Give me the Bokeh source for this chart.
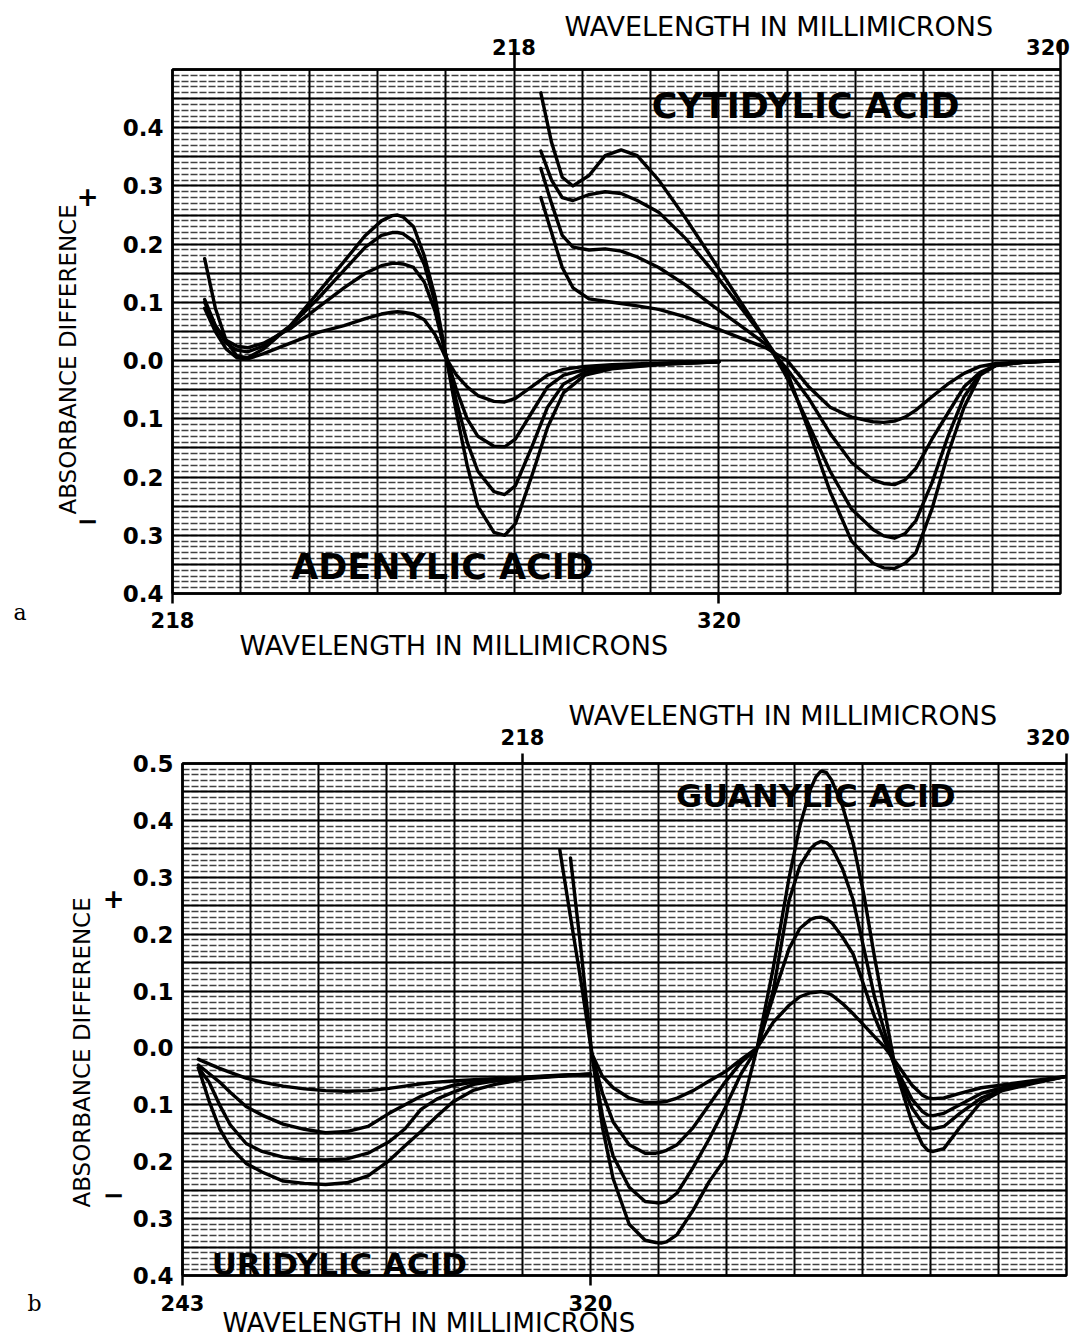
import numpy as np
from bokeh.plotting import figure
from bokeh.models import Range1d, LinearAxis, FixedTicker, Label, Title, CustomJSTickFormatter
from bokeh.embed import file_html
from bokeh.resources import INLINE

nan = float("nan")

# ---------------- Panel a : adenylic acid (bottom wavelength scale) ----------------
adenylic_wl = [224, 226, 228, 230, 232, 235, 240, 245, 250, 254, 257, 259, 260, 261, 263, 265, 267,
               269, 271, 273, 275, 278, 280, 282, 285, 288, 291, 295, 300, 310, 320]
adenylic_1 = [0.175, 0.09, 0.035, 0.008, 0.005, 0.02, 0.06, 0.115, 0.17, 0.215, 0.24, 0.249, 0.25, 0.247, 0.23,
              0.18, 0.11, 0.01, -0.09, -0.18, -0.25, -0.295, -0.30, -0.28, -0.20, -0.115, -0.055, -0.025,
              -0.014, -0.006, -0.002]
adenylic_2 = [0.105, 0.06, 0.03, 0.018, 0.015, 0.025, 0.06, 0.105, 0.155, 0.195, 0.215, 0.22, 0.22, 0.218, 0.205,
              0.165, 0.10, 0.01, -0.07, -0.14, -0.19, -0.225, -0.23, -0.215, -0.15, -0.08, -0.04, -0.02,
              -0.012, -0.006, -0.002]
adenylic_3 = [0.10, 0.06, 0.035, 0.025, 0.022, 0.03, 0.055, 0.09, 0.125, 0.15, 0.163, 0.167, 0.167, 0.166, 0.16,
              0.135, 0.085, 0.01, -0.05, -0.10, -0.13, -0.147, -0.148, -0.135, -0.09, -0.045, -0.025, -0.015,
              -0.01, -0.005, -0.002]
adenylic_4 = [0.09, 0.05, 0.02, 0.005, 0.003, 0.012, 0.03, 0.048, 0.06, 0.072, 0.08, 0.083, 0.084, 0.083, 0.08,
              0.07, 0.045, 0.005, -0.025, -0.045, -0.06, -0.07, -0.071, -0.065, -0.045, -0.025, -0.015, -0.01,
              -0.007, -0.004, -0.001]

# ---------------- Panel a : cytidylic acid (top wavelength scale) ----------------
cytidylic_wl = [223, 225, 227, 229, 232, 235, 238, 241, 245, 250, 255, 260, 265, 269, 273, 277, 281,
                285, 287, 289, 291, 293, 296, 299, 302, 305, 308, 313, 320]
cytidylic_1 = [0.46, 0.375, 0.315, 0.30, 0.318, 0.352, 0.362, 0.352, 0.31, 0.245, 0.175, 0.105, 0.035, -0.02,
               -0.12, -0.225, -0.31, -0.348, -0.356, -0.357, -0.348, -0.33, -0.255, -0.16, -0.08, -0.025,
               -0.008, -0.003, 0.0]
cytidylic_2 = [0.36, 0.31, 0.28, 0.275, 0.285, 0.29, 0.287, 0.275, 0.255, 0.21, 0.155, 0.095, 0.035, -0.03,
               -0.11, -0.19, -0.255, -0.29, -0.301, -0.305, -0.297, -0.275, -0.21, -0.13, -0.062, -0.022,
               -0.008, -0.003, 0.0]
cytidylic_3 = [0.33, 0.27, 0.215, 0.195, 0.19, 0.192, 0.188, 0.178, 0.16, 0.13, 0.095, 0.062, 0.028, -0.015,
               -0.065, -0.125, -0.175, -0.205, -0.211, -0.213, -0.205, -0.185, -0.135, -0.09, -0.045, -0.02,
               -0.008, -0.003, 0.0]
cytidylic_4 = [0.28, 0.22, 0.16, 0.125, 0.106, 0.102, 0.098, 0.094, 0.088, 0.075, 0.058, 0.04, 0.022, 0.0,
               -0.045, -0.08, -0.097, -0.105, -0.106, -0.104, -0.097, -0.085, -0.062, -0.04, -0.022, -0.01,
               -0.005, -0.002, 0.0]

# ---------------- Panel b : uridylic acid (bottom wavelength scale) ----------------
uridylic_wl = [246, 248, 250, 252, 255, 258, 262, 266, 270, 274, 278, 282, 285, 288, 291, 294, 298, 302, 308, 314, 320]
uridylic_1 = [-0.035, -0.093, -0.142, -0.174, -0.203, -0.218, -0.234, -0.238, -0.24, -0.237, -0.225, -0.198,
              -0.172, -0.147, -0.12, -0.095, -0.074, -0.064, -0.054, -0.05, -0.046]
uridylic_2 = [-0.035, -0.06, -0.10, -0.135, -0.168, -0.182, -0.192, -0.196, -0.197, -0.195, -0.185, -0.165,
              -0.142, -0.108, -0.09, -0.078, -0.064, -0.058, -0.053, -0.049, -0.046]
uridylic_3 = [-0.03, -0.045, -0.06, -0.078, -0.103, -0.118, -0.134, -0.143, -0.149, -0.147, -0.138, -0.115,
              -0.10, -0.085, -0.074, -0.066, -0.06, -0.056, -0.052, -0.049, -0.046]
uridylic_4 = [-0.02, -0.028, -0.036, -0.043, -0.053, -0.06, -0.067, -0.072, -0.075, -0.076, -0.075, -0.071,
              -0.067, -0.063, -0.06, -0.058, -0.056, -0.054, -0.051, -0.048, -0.046]

# ---------------- Panel b : guanylic acid (top wavelength scale) ----------------
guanylic_wl = [225, 227, 229, 231, 233, 235, 238, 241, 243, 244, 245, 247, 250, 253, 256, 259, 262, 265, 268,
               270, 272, 273, 274, 275, 276, 278, 280, 282, 284, 286, 288, 291, 293, 294, 295, 297, 300, 304,
               308, 314, 320]
guanylic_1 = [0.348, 0.23, 0.115, -0.01, -0.14, -0.23, -0.31, -0.338, -0.342, -0.343, -0.341, -0.328, -0.285,
              -0.235, -0.195, -0.11, 0.0, 0.14, 0.30, 0.39, 0.455, 0.476, 0.487, 0.484, 0.47, 0.425, 0.36, 0.27,
              0.16, 0.06, -0.04, -0.13, -0.17, -0.18, -0.182, -0.177, -0.14, -0.095, -0.075, -0.062, -0.05]
guanylic_2 = [nan, 0.334, 0.17, -0.01, -0.12, -0.19, -0.245, -0.27, -0.272, -0.272, -0.27, -0.255, -0.21,
              -0.16, -0.105, -0.045, 0.0, 0.10, 0.26, 0.32, 0.35, 0.359, 0.363, 0.361, 0.352, 0.315, 0.26, 0.175,
              0.09, 0.025, -0.04, -0.105, -0.132, -0.14, -0.142, -0.138, -0.115, -0.088, -0.073, -0.06, -0.05]
guanylic_3 = [nan, nan, nan, -0.01, -0.08, -0.13, -0.17, -0.185, -0.185, -0.183, -0.18, -0.17, -0.14,
              -0.10, -0.06, -0.025, 0.0, 0.09, 0.175, 0.21, 0.226, 0.229, 0.23, 0.227, 0.22, 0.195, 0.165, 0.11,
              0.055, 0.01, -0.035, -0.09, -0.112, -0.118, -0.119, -0.115, -0.10, -0.08, -0.07, -0.06, -0.05]
guanylic_4 = [nan, nan, nan, -0.01, -0.05, -0.07, -0.088, -0.096, -0.096, -0.095, -0.094, -0.088, -0.075,
              -0.058, -0.042, -0.02, 0.0, 0.045, 0.075, 0.09, 0.097, 0.098, 0.099, 0.097, 0.093, 0.078, 0.06,
              0.04, 0.02, 0.0, -0.025, -0.065, -0.083, -0.088, -0.089, -0.088, -0.08, -0.07, -0.065, -0.057, -0.05]

# axis tick values
wl_ticks_a_bottom = [218, 320]
wl_ticks_b_bottom = [243, 320]
wl_ticks_top = [218, 320]
y_ticks_a = [-0.4, -0.3, -0.2, -0.1, 0.0, 0.1, 0.2, 0.3, 0.4]
y_ticks_b = [-0.4, -0.3, -0.2, -0.1, 0.0, 0.1, 0.2, 0.3, 0.4, 0.5]
sign_ticks_a = [0.283, -0.274]      # where the "+" and "-" signs sit on the y scale
sign_ticks_b = [0.263, -0.256]

FONT = "DejaVu Sans"
TOP_STEP = 12.75          # nm per grid division on the upper scale
TOP_START = 218 - 5 * TOP_STEP


def style_axis(ax, tick_out, standoff, size):
    ax.axis_line_color = "black"
    ax.axis_line_width = 2.5
    ax.major_tick_line_color = "black"
    ax.major_tick_line_width = 2.5
    ax.major_tick_out = tick_out
    ax.major_tick_in = 0
    ax.minor_tick_line_color = None
    ax.major_label_standoff = standoff
    ax.major_label_text_font = FONT
    ax.major_label_text_font_size = size
    ax.major_label_text_font_style = "bold"
    ax.major_label_text_color = "black"


def title(text, size, align, offset, standoff, style="normal", font=FONT, valign="bottom"):
    return Title(text=text, align=align, vertical_align=valign, offset=offset, standoff=standoff,
                 text_font=font, text_font_size=size, text_font_style=style, text_color="black")


def make_panel(height, borders, x_start, x_step, bottom_ticks, y_ticks, sign_ticks,
               bot_tick, top_tick, sign_standoff):
    left, right, top, bottom = borders
    p = figure(width=1084, height=height, output_backend="svg", toolbar_location=None,
               x_range=Range1d(x_start, x_start + 13 * x_step), y_range=Range1d(-0.4, 0.5),
               min_border_left=left, min_border_right=right, min_border_top=top, min_border_bottom=bottom,
               background_fill_color="white", border_fill_color="white")
    p.extra_x_ranges = {"top": Range1d(TOP_START, TOP_START + 13 * TOP_STEP)}
    p.outline_line_color = "black"
    p.outline_line_width = 2.5

    # graph-paper grid
    p.xgrid.ticker = FixedTicker(ticks=[x_start + i * x_step for i in range(14)])
    p.xgrid.grid_line_color = "black"
    p.xgrid.grid_line_width = 2
    p.ygrid.ticker = FixedTicker(ticks=[round(-0.4 + 0.05 * i, 4) for i in range(19)],
                                 minor_ticks=[round(-0.4 + 0.01 * i, 4) for i in range(91)])
    p.ygrid.grid_line_color = "black"
    p.ygrid.grid_line_width = 2
    p.ygrid.minor_grid_line_color = "#111111"
    p.ygrid.minor_grid_line_alpha = 0.8
    p.ygrid.minor_grid_line_width = 1.3
    p.ygrid.minor_grid_line_dash = "7 2"

    yax = p.yaxis[0]
    yax.ticker = FixedTicker(ticks=y_ticks)
    yax.formatter = CustomJSTickFormatter(code="return Math.abs(tick).toFixed(1);")
    style_axis(yax, 0, 9, "23px")

    sax = LinearAxis(ticker=FixedTicker(ticks=sign_ticks),
                     formatter=CustomJSTickFormatter(code="return tick > 0 ? '+' : '\u2212';"))
    style_axis(sax, 0, sign_standoff, "26px")
    sax.axis_line_color = None
    sax.major_tick_line_color = None
    p.add_layout(sax, "left")

    bax = p.xaxis[0]
    bax.ticker = FixedTicker(ticks=bottom_ticks)
    style_axis(bax, bot_tick[0], bot_tick[1], "21px")

    tax = LinearAxis(x_range_name="top", ticker=FixedTicker(ticks=wl_ticks_top),
                     formatter=CustomJSTickFormatter(
                         code="return tick == 320 ? '320\u2007' : tick.toString();"))
    style_axis(tax, top_tick[0], top_tick[1], "21px")
    p.add_layout(tax, "above")
    return p


def lab(p, x, y, text, size, style="bold"):
    p.add_layout(Label(x=x, y=y, text=text, text_font=FONT, text_font_size=size,
                       text_font_style=style, text_color="black", text_align="center",
                       text_baseline="middle"))


def curves(p, wl, series, top=False):
    for s in series:
        kw = {"x_range_name": "top"} if top else {}
        p.line(np.array(wl, dtype=float), np.array(s, dtype=float), line_color="black",
               line_width=3.4, line_join="round", line_cap="round", **kw)


# ---------------- panel a ----------------
pa = make_panel(662, (172, 24, 69, 69), 218, 12.75, wl_ticks_a_bottom, y_ticks_a, sign_ticks_a,
                (10, 8), (28, -18), 21)
curves(pa, adenylic_wl, [adenylic_1, adenylic_2, adenylic_3, adenylic_4])
curves(pa, cytidylic_wl, [cytidylic_1, cytidylic_2, cytidylic_3, cytidylic_4], top=True)
pa.add_layout(title("WAVELENGTH IN MILLIMICRONS", "27px", "left", 392, -18), "above")
pa.add_layout(title("WAVELENGTH IN MILLIMICRONS", "27px", "left", 67, -6), "below")
pa.add_layout(title("a", "22px", "left", -159, -116, font="DejaVu Serif", valign="top"), "below")
pa.add_layout(title("ABSORBANCE DIFFERENCE", "23px", "left", 79, -14), "left")
lab(pa, 336.2, 0.438, "CYTIDYLIC ACID", "35px")
lab(pa, 268.4, -0.354, "ADENYLIC ACID", "35px")

# ---------------- panel b ----------------
B_STEP = (320 - 243) / 6
pb = make_panel(677, (182, 18, 101, 64), 243, B_STEP, wl_ticks_b_bottom, y_ticks_b, sign_ticks_b,
                (10, 9), (10, 4), 5)
curves(pb, uridylic_wl, [uridylic_1, uridylic_2, uridylic_3, uridylic_4])
curves(pb, guanylic_wl, [guanylic_1, guanylic_2, guanylic_3, guanylic_4], top=True)
pb.add_layout(title("WAVELENGTH IN MILLIMICRONS", "27px", "left", 386, -16), "above")
pb.add_layout(title("WAVELENGTH IN MILLIMICRONS", "26px", "left", 40, -15), "below")
pb.add_layout(title("b", "22px", "left", -155, -80, font="DejaVu Serif", valign="top"), "below")
pb.add_layout(title("ABSORBANCE DIFFERENCE", "23px", "left", 68, 10), "left")
lab(pb, 362.5, 0.443, "GUANYLIC ACID", "32px")
lab(pb, 272.6, -0.38, "URIDYLIC ACID", "31px")

open("out.html", "w").write(file_html([pa, pb], INLINE))
